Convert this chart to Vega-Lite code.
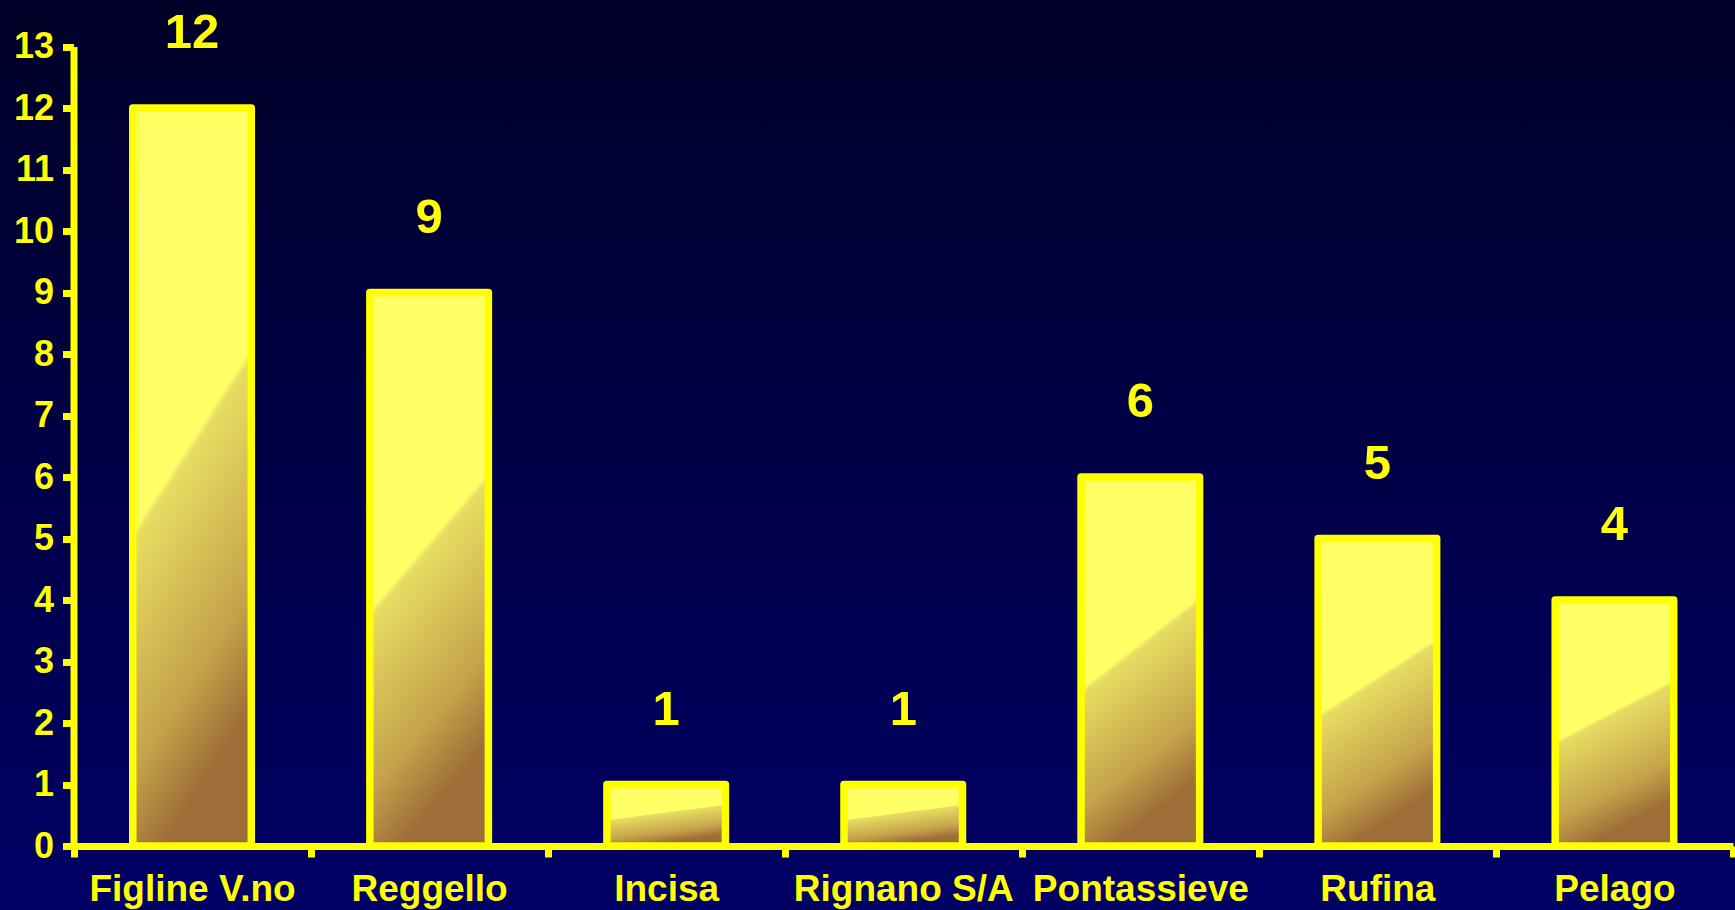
{
  "$schema": "https://vega.github.io/schema/vega-lite/v6.json",
  "width": 1735,
  "height": 910,
  "autosize": "none",
  "padding": 0,
  "background": "#000040",
  "config": {
    "view": {
      "stroke": null,
      "fill": {"gradient": "linear", "x1": 0, "y1": 0, "x2": 0, "y2": 1, "stops": [{"offset": 0, "color": "#000028"}, {"offset": 1, "color": "#000066"}]}
    },
    "font": "Liberation Sans",
    "axis": {
      "domainColor": "#FFFF00",
      "domainWidth": 7,
      "tickColor": "#FFFF00",
      "tickWidth": 7,
      "tickSize": 11,
      "labelColor": "#FFFF00",
      "labelFont": "Liberation Sans",
      "labelFontWeight": "bold",
      "grid": false,
      "title": null
    }
  },
  "data": {
    "values": [
      {"comune": "Figline V.no", "valore": 12},
      {"comune": "Reggello", "valore": 9},
      {"comune": "Incisa", "valore": 1},
      {"comune": "Rignano S/A", "valore": 1},
      {"comune": "Pontassieve", "valore": 6},
      {"comune": "Rufina", "valore": 5},
      {"comune": "Pelago", "valore": 4}
    ]
  },
  "encoding": {
    "x": {
      "field": "comune",
      "type": "nominal",
      "sort": null,
      "scale": {"range": [73.5, 1733], "paddingInner": 0, "paddingOuter": 0},
      "axis": {"offset": -64, "labelAngle": 0, "labelFontSize": 37, "labelBaseline": "alphabetic", "labelPadding": 43, "tickBand": "extent", "labelLimit": 400}
    },
    "y": {
      "field": "valore",
      "type": "quantitative",
      "scale": {"domain": [0, 13], "range": [846, 46.5], "nice": false},
      "axis": {"offset": -73.5, "values": [0,1,2,3,4,5,6,7,8,9,10,11,12,13], "labelFontSize": 36, "labelPadding": 9}
    }
  },
  "layer": [
    {
      "mark": {
        "type": "bar",
        "width": {"band": 0.5},
        "stroke": "#FFFF00",
        "strokeWidth": 7.5,
        "strokeJoin": "round",
        "fill": {"gradient": "linear", "x1": 0, "y1": 0, "x2": 0.25, "y2": 1, "stops": [
          {"offset": 0, "color": "#FFFF66"},
          {"offset": 0.54, "color": "#FFFF66"},
          {"offset": 0.555, "color": "#E8DC62"},
          {"offset": 0.85, "color": "#C4A24A"},
          {"offset": 1, "color": "#9E6E38"}
        ]}
      }
    },
    {
      "mark": {"type": "text", "color": "#FFFF00", "font": "Liberation Sans", "fontWeight": "bold", "fontSize": 49, "baseline": "alphabetic", "dy": -60},
      "encoding": {"text": {"field": "valore", "type": "quantitative"}}
    }
  ]
}
